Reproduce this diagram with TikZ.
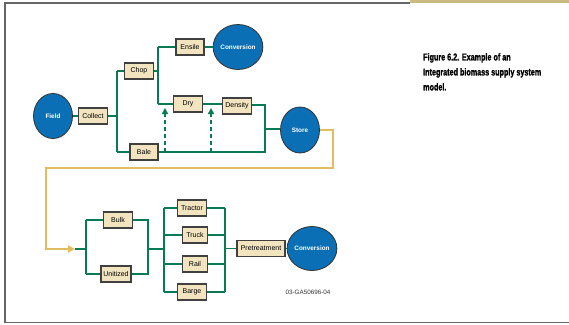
\documentclass[tikz,border=0pt]{standalone}
\usepackage{fontspec}
\setmainfont{Liberation Sans}
\newfontfamily\capfont[FakeStretch=0.72,FakeBold=1.2]{Liberation Sans Bold}
\usetikzlibrary{shapes.geometric,arrows.meta}
\definecolor{grn}{HTML}{0A7A55}
\definecolor{blu}{HTML}{0A6FB5}
\definecolor{boxfill}{HTML}{F3E4C0}
\definecolor{gold}{HTML}{E2BD5F}
\definecolor{tanbar}{HTML}{C9BC80}
\definecolor{frame}{HTML}{666666}
\tikzset{
  stepbox/.style={draw=black!75, line width=1.2pt, fill=boxfill, minimum width=29pt, minimum height=16pt, inner sep=1pt, font=\fontsize{7}{8}\selectfont},
  ell/.style={ellipse, draw=black!80, line width=0.8pt, fill=blu, text=white, minimum width=39pt, minimum height=45pt, inner sep=0pt, font=\bfseries\fontsize{6.4}{7}\selectfont},
  link/.style={draw=grn, line width=1.8pt},
  thinlink/.style={draw=grn, line width=1.3pt},
  dashlink/.style={draw=grn, line width=1.8pt, dash pattern=on 4pt off 3pt, -{Triangle[length=6pt,width=6pt]}},
  goldlink/.style={draw=gold, line width=1.5pt}
}
\begin{document}
\begin{tikzpicture}[x=1pt,y=-1pt]
\useasboundingbox (0,0) rectangle (569,324);
% frame
\draw[frame, line width=1.5pt] (5,323) |- (410,3);
\fill[tanbar] (410,0) rectangle (569,3.2);
\draw[frame, line width=1.5pt] (4.3,322.5) -- (569,322.5);

% top network nodes
\node[ell] (field) at (53,116) {Field};
\node[stepbox] (collect) at (93,116) {Collect};
\node[stepbox] (chop) at (139,71) {Chop};
\node[stepbox, minimum width=28pt] (ensile) at (190,47) {Ensile};
\node[ell] (conv1) at (238,47) {Conversion};
\node[stepbox] (dry) at (188,104) {Dry};
\node[stepbox] (density) at (237,106) {Density};
\node[stepbox, minimum width=28pt] (bale) at (144,152) {Bale};
\node[ell, minimum height=46pt] (store) at (300,130) {Store};

\coordinate (j1) at (117,116);
\coordinate (j1t) at (117,71);
\coordinate (j1b) at (117,152);
\coordinate (j2) at (158,71);
\coordinate (j2t) at (158,47);
\coordinate (j2b) at (158,104);
\coordinate (j3t) at (265,105);
\coordinate (j3m) at (265,129);
\coordinate (j3b) at (265,152);

\draw[link] (field) -- (collect);
\draw[link] (collect) -- (j1);
\draw[link] (j1t) -- (j1b);
\draw[link] (j1t) -- (chop.west);
\draw[link] (j1b) -- (bale.west);
\draw[link] (chop.east) -- (j2);
\draw[link] (j2t) -- (j2b);
\draw[link] (j2t) -- (ensile.west);
\draw[link] (j2b) -- (dry.west);
\draw[link] (ensile) -- (conv1);
\draw[link] (dry.east) -- (density.west |- dry.east);
\draw[link] (density.east |- j3t) -- (j3t) -- (j3b) -- (bale.east);
\draw[link] (j3m) -- (store.west |- j3m);

\coordinate (d1b) at (165,152);
\coordinate (d1t) at (165,108);
\coordinate (d2b) at (211,152);
\coordinate (d2t) at (211,108);
\draw[dashlink] (d1b) -- (d1t);
\draw[dashlink] (d2b) -- (d2t);

% gold connector
\coordinate (g1) at (333,130);
\coordinate (g2) at (333,168);
\coordinate (g3) at (46,168);
\coordinate (g4) at (46,249);
\coordinate (g5) at (75,249);
\draw[goldlink, -{Triangle[length=7pt,width=7pt]}] (store.east) -- (g1) -- (g2) -- (g3) -- (g4) -- (g5);

% bottom network
\node[stepbox] (bulk) at (118,220) {Bulk};
\node[stepbox, minimum width=30pt] (unit) at (116,274) {Unitized};
\node[stepbox] (tractor) at (192,208) {Tractor};
\node[stepbox, minimum width=25pt] (truck) at (195,235) {Truck};
\node[stepbox, minimum width=25pt] (rail) at (195,264) {Rail};
\node[stepbox] (barge) at (192,292) {Barge};
\node[stepbox, minimum width=48pt] (pre) at (261,248.5) {Pretreatment};
\node[ell, minimum height=44pt] (conv2) at (312,248.5) {Conversion};

\coordinate (b0) at (86,249);
\coordinate (b1t) at (86,220);
\coordinate (b1b) at (86,274);
\coordinate (b2t) at (148,220);
\coordinate (b2b) at (148,274);
\coordinate (b2m) at (148,249);
\coordinate (b3m) at (164,249);
\coordinate (b3t) at (164,208);
\coordinate (b3b) at (164,292);
\coordinate (b4t) at (225,208);
\coordinate (b4b) at (225,292);
\coordinate (b4m) at (225,248.5);

\draw[link] (g5) -- (b0);
\draw[link] (b1t) -- (b1b);
\draw[link] (b1t) -- (bulk.west);
\draw[link] (b1b) -- (unit.west);
\draw[link] (bulk.east) -- (b2t) -- (b2b) -- (unit.east);
\draw[link] (b2m) -- (b3m);
\draw[link] (b3t) -- (b3b);
\draw[link] (b3t) -- (tractor.west);
\draw[link] (b3t |- truck) -- (truck.west);
\draw[thinlink] (b3t |- rail) -- (rail.west);
\draw[thinlink] (b3b) -- (barge.west);
\draw[link] (tractor.east) -- (b4t);
\draw[link] (truck.east) -- (b4t |- truck);
\draw[thinlink] (rail.east) -- (b4t |- rail);
\draw[thinlink] (barge.east) -- (b4b);
\draw[link] (b4t) -- (b4b);
\draw[link] (b4m) -- (pre.west);
\draw[link] (pre) -- (conv2);

\node[font=\fontsize{6.3}{7}\selectfont, text=black!80] (code) at (308,292) {03-GA50696-04};

\node[anchor=north west, align=left, inner sep=0pt, font=\capfont\fontsize{10}{15}\selectfont] (cap) at (423,53) {Figure 6.2. Example of an\\Integrated biomass supply system\\model.};
\end{tikzpicture}
\end{document}
